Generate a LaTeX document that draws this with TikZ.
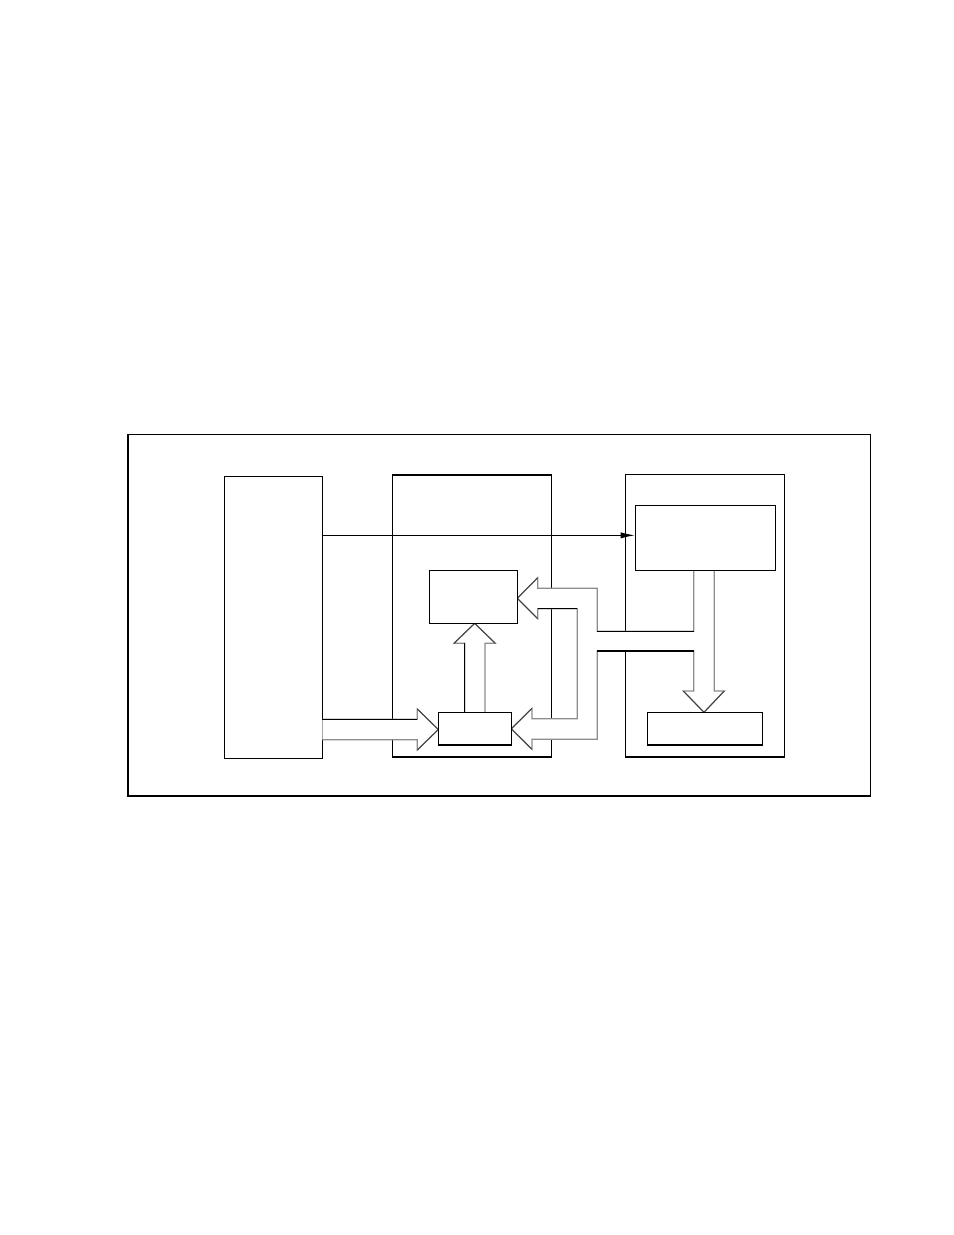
\documentclass[tikz,border=0pt]{standalone}
\usetikzlibrary{fit,arrows.meta}
\begin{document}
\begin{tikzpicture}[x=0.02cm,y=-0.02cm]
			\tikzset{>={Latex[length=8pt,width=3.5pt]}}
			\tikzset{
				unit/.style={draw,line width=0.85pt,inner sep=0pt},
				part/.style={draw,line width=0.6pt,inner sep=0pt,fill=white},
				bus/.style={fill=white,draw=black!45,line width=0.65pt,line join=miter},
				busedge/.style={draw=black,line width=0.65pt},
				bushead/.style={draw=black!75,line width=0.55pt},
			}
			\useasboundingbox (0,0) rectangle (954,1235);

			% frame and the three units
			\node[draw,line width=0.65pt,inner sep=0pt,fit={(128,434.3) (870.7,796)}] (frame) {};
			\node[unit,fit={(224.7,476.7) (322.3,758.3)}] (src) {};
			\node[unit,fit={(392.7,475) (551.3,757)}] (mid) {};
			\node[unit,fit={(625.7,474.3) (784.3,757)}] (out) {};

			% wide arrows
			\draw[bus] (322.3,719.3) -- (417.3,719.3) -- (417.3,709) -- (438.3,729.5) -- (417.3,750) -- (417.3,739.7) -- (322.3,739.7);
			\draw[busedge] (322.3,719.3) -- (417.3,719.3);
			\draw[bushead] (417.3,709) -- (438.3,729.5) -- (417.3,750);

			\draw[bus] (464.7,712.3) -- (464.7,643.3) -- (454,643.3) -- (474.7,623.3) -- (495.3,643.3) -- (485,643.3) -- (485,712.3);
			\draw[busedge] (464.7,712.3) -- (464.7,643.3);
			\draw[bushead] (454,643.3) -- (474.7,623.3) -- (495.3,643.3);

			\draw[bus] (693.7,570.3) -- (693.7,631.3) -- (597.3,631.3) -- (597.3,588.3) -- (537.7,588.3)
				-- (537.7,577.7) -- (517.3,598.3) -- (537.7,618.7) -- (537.7,608.7) -- (577.3,608.7)
				-- (577.3,718.7) -- (532,718.7) -- (532,708.3) -- (511.3,728.8) -- (532,749.3)
				-- (532,739.3) -- (597.3,739.3) -- (597.3,651) -- (693.7,651) -- (693.7,691)
				-- (683.3,691) -- (704,712.3) -- (724.3,691) -- (714.3,691) -- (714.3,570.3);
			\draw[busedge] (693.7,631.3) -- (597.3,631.3);
			\draw[busedge] (537.7,608.7) -- (577.3,608.7);
			\draw[busedge] (597.3,651) -- (693.7,651);
			\draw[bushead] (537.7,577.7) -- (517.3,598.3) -- (537.7,618.7);
			\draw[bushead] (532,708.3) -- (511.3,728.8) -- (532,749.3);
			\draw[bushead] (683.3,691) -- (704,712.3) -- (724.3,691);

			% inner blocks
			\node[part,fit={(429.3,570.3) (517.3,623.3)}] (mem) {};
			\node[part,fit={(438.3,712.3) (511.3,745)}] (ctl) {};
			\node[part,fit={(635.3,505.3) (775.3,570.3)}] (disp) {};
			\node[part,fit={(647.3,712.3) (762.3,745)}] (drv) {};

			\coordinate (feed) at ([yshift=1.4pt]disp.west);
			\draw[->,line width=0.55pt] (src.east |- feed) -- (feed);
		\end{tikzpicture}
\end{document}
